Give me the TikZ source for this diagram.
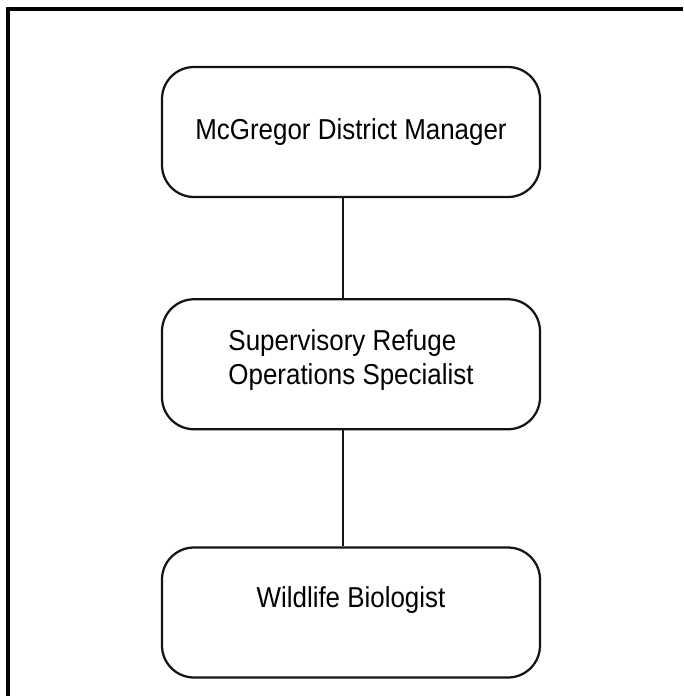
\documentclass[tikz,border=0pt]{standalone}
\usepackage{fontspec}
\setmainfont{Liberation Sans}[FakeStretch=0.9]
\usepackage{tikz}
\usetikzlibrary{positioning}
\definecolor{mydark}{RGB}{20,20,20}
\tikzset{
  orgbox/.style={rectangle, draw=mydark, fill=white, minimum width=9.45cm,
    minimum height=3.25cm, rounded corners=0.8cm, line width=1.6pt, align=left,
    font=\fontsize{20.5}{24.5}\selectfont},
  line/.style={line width=1.5pt, color=mydark},
  frame/.style={line width=2.2pt, color=black}
}

\begin{document}
\begin{tikzpicture}
  \useasboundingbox (0,0) rectangle (17.075,-17.4);
  % outer frame, open on the right and bottom
  \draw[frame] (0.2,-17.4) -- (0.2,-0.225) -- (17.075,-0.225);
  % chain of positions
  \node[orgbox] (mgr) at (8.775,-3.3) {McGregor District Manager};
  \node[orgbox, below=2.5cm of mgr, text depth=0.35cm] (sros) {Supervisory Refuge\\Operations Specialist};
  \node[orgbox, below=2.9cm of sros, text depth=0.75cm] (bio) {Wildlife Biologist};
  % reporting lines
  \draw[line] ([xshift=-0.2cm]mgr.south) -- ([xshift=-0.2cm]sros.north);
  \draw[line] ([xshift=-0.2cm]sros.south) -- ([xshift=-0.2cm]bio.north);
\end{tikzpicture}
\end{document}
